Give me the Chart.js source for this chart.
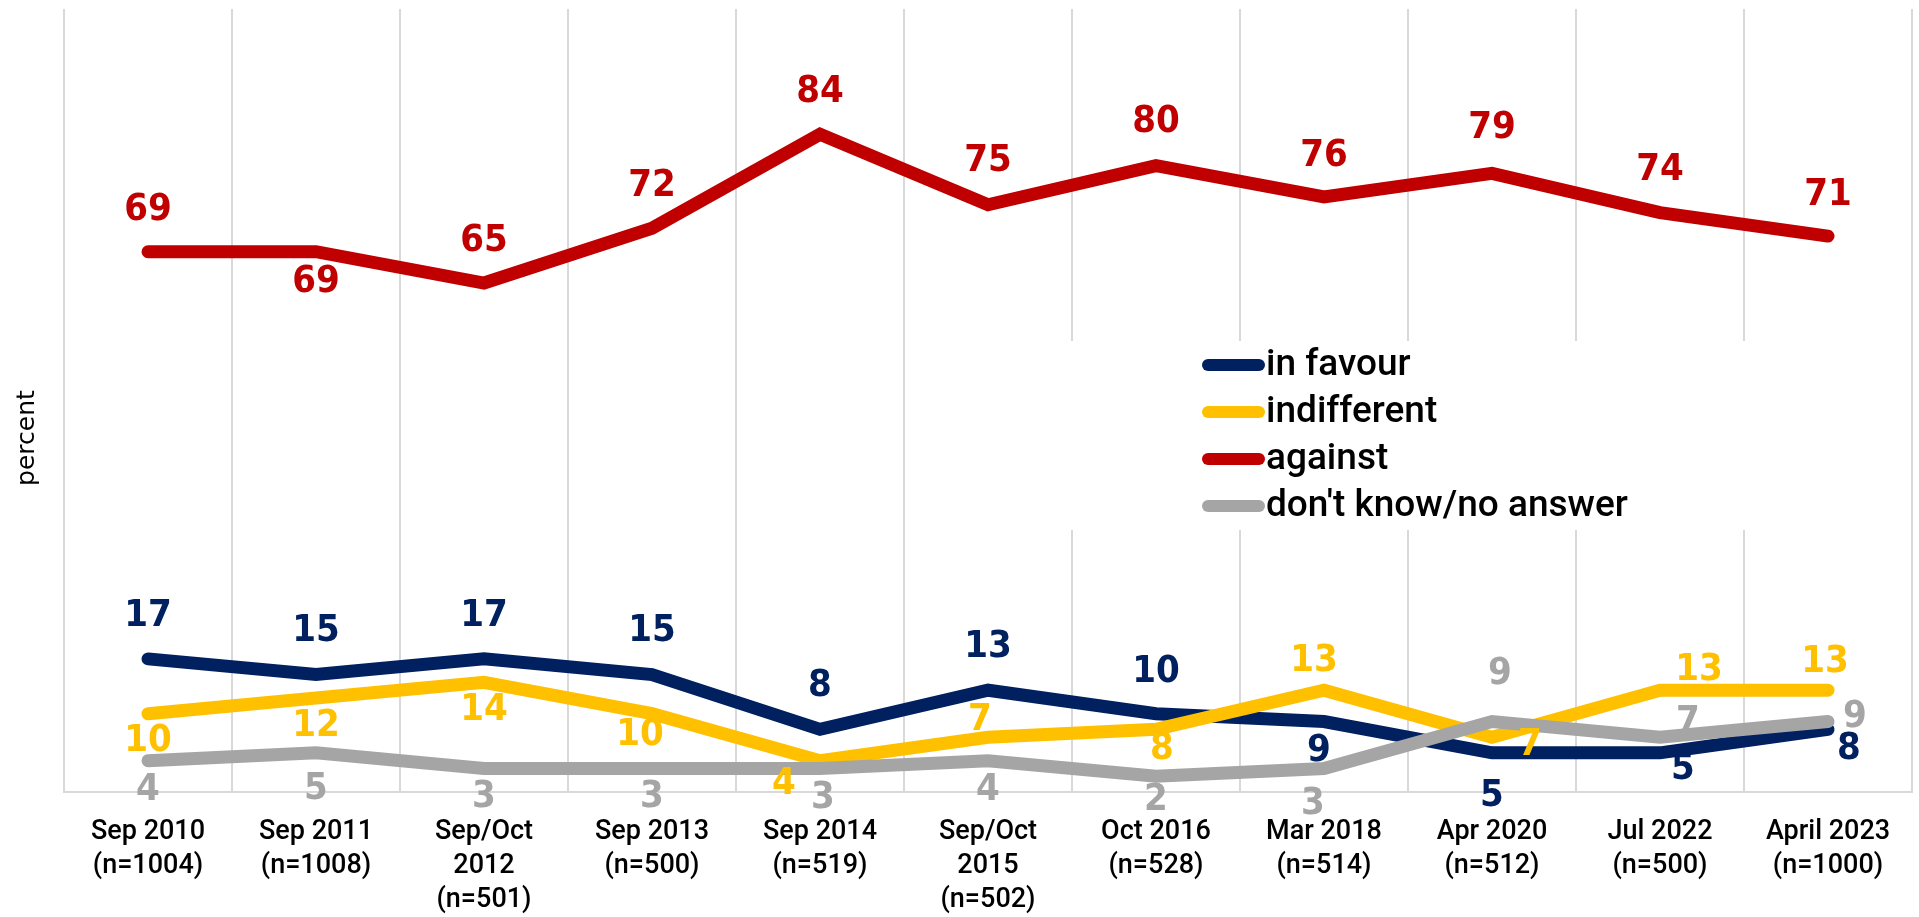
<!DOCTYPE html>
<html>
<head>
<meta charset="utf-8">
<script src="https://cdn.jsdelivr.net/npm/chart.js@4.4.1/dist/chart.umd.min.js"></script>
<style>
  html, body { margin: 0; padding: 0; background: #fff; }
</style>
</head>
<body>
<canvas id="chart" width="1919" height="917"></canvas>
<script>
const categories = [
  ['Sep 2010', '(n=1004)'],
  ['Sep 2011', '(n=1008)'],
  ['Sep/Oct', '2012', '(n=501)'],
  ['Sep 2013', '(n=500)'],
  ['Sep 2014', '(n=519)'],
  ['Sep/Oct', '2015', '(n=502)'],
  ['Oct 2016', '(n=528)'],
  ['Mar 2018', '(n=514)'],
  ['Apr 2020', '(n=512)'],
  ['Jul 2022', '(n=500)'],
  ['April 2023', '(n=1000)']
];

const inFavour    = [17, 15, 17, 15, 8, 13, 10, 9, 5, 5, 8];
const indifferent = [10, 12, 14, 10, 4, 7, 8, 13, 7, 13, 13];
const against     = [69, 69, 65, 72, 84, 75, 80, 76, 79, 74, 71];
const dontKnow    = [4, 5, 3, 3, 3, 4, 2, 3, 9, 7, 9];

// where each value label sits relative to its point, [dx, dy] in px
const inFavourNudge    = [[0,-43],[0,-43],[0,-43],[0,-43],[0,-43],[0,-43],[0,-42],[-5,30],[0,43],[23,16],[21,20]];
const indifferentNudge = [[0,27],[0,28],[0,28],[-12,21],[-36,23],[-8,-17],[6,20],[-10,-29],[38,8],[39,-20],[-3,-28]];
const againstNudge     = [[0,-42],[0,30],[0,-42],[0,-42],[0,-42],[0,-44],[0,-43],[0,-41],[0,-45],[0,-42],[0,-41]];
const dontKnowNudge    = [[0,29],[0,36],[0,29],[0,29],[3,30],[0,29],[0,24],[-11,36],[8,-47],[28,-15],[27,-4]];

const NAVY = '#002060', GOLD = '#FFC000', RED = '#C00000', GREY = '#A5A5A5';
const GRID = '#D9D9D9';

function line(label, data, color, order, nudge) {
  return {
    label: label,
    data: data,
    borderColor: color,
    backgroundColor: color,
    borderWidth: 13,
    borderCapStyle: 'round',
    borderJoinStyle: 'miter',
    pointRadius: 0,
    tension: 0,
    fill: false,
    order: order,
    nudge: nudge
  };
}

// white box behind the legend, covering the gridlines
const legendBox = {
  id: 'legendBox',
  beforeDatasetsDraw(chart) {
    const ctx = chart.ctx;
    ctx.save();
    ctx.fillStyle = '#fff';
    ctx.fillRect(1000, 341, 840, 189);
    ctx.restore();
  }
};

const valueLabels = {
  id: 'valueLabels',
  afterDatasetsDraw(chart) {
    const ctx = chart.ctx;
    ctx.save();
    ctx.font = "bold 38px 'Liberation Sans Narrow', 'DejaVu Sans Condensed', Roboto";
    ctx.textAlign = 'center';
    ctx.textBaseline = 'middle';
    chart.data.datasets.forEach((ds, i) => {
      const meta = chart.getDatasetMeta(i);
      ctx.fillStyle = ds.borderColor;
      meta.data.forEach((pt, j) => {
        const n = ds.nudge[j];
        ctx.fillText(String(ds.data[j]), pt.x + n[0], pt.y + n[1]);
      });
    });
    ctx.restore();
  }
};

const extras = {
  id: 'extras',
  afterDraw(chart) {
    const ctx = chart.ctx;
    ctx.save();
    // legend
    ctx.font = "500 37px Roboto";
    ctx.textAlign = 'left';
    ctx.textBaseline = 'middle';
    chart.data.datasets.forEach((ds, i) => {
      const y = 365 + i * 47;
      ctx.strokeStyle = ds.borderColor;
      ctx.lineWidth = 12;
      ctx.lineCap = 'round';
      ctx.beginPath();
      ctx.moveTo(1208, y);
      ctx.lineTo(1259, y);
      ctx.stroke();
      ctx.fillStyle = '#000';
      ctx.fillText(ds.label, 1266, y + 1);
    });
    // y axis title
    ctx.translate(27, 438);
    ctx.rotate(-Math.PI / 2);
    ctx.font = "25px 'DejaVu Sans'";
    ctx.textAlign = 'center';
    ctx.fillText('percent', 0, 0);
    ctx.restore();
  }
};

new Chart(document.getElementById('chart'), {
  type: 'line',
  data: {
    labels: categories,
    datasets: [
      line('in favour', inFavour, NAVY, 4, inFavourNudge),
      line('indifferent', indifferent, GOLD, 3, indifferentNudge),
      line('against', against, RED, 2, againstNudge),
      line("don't know/no answer", dontKnow, GREY, 1, dontKnowNudge)
    ]
  },
  options: {
    responsive: false,
    animation: false,
    devicePixelRatio: 1,
    layout: { padding: { left: 64, right: 7, top: 9, bottom: 0 } },
    plugins: {
      legend: { display: false },
      tooltip: { enabled: false }
    },
    scales: {
      x: {
        offset: true,
        grid: { offset: true, color: GRID, lineWidth: 2, drawTicks: false },
        border: { display: true, color: GRID, width: 2 },
        ticks: {
          color: '#000',
          padding: 23,
          maxRotation: 0,
          autoSkip: false,
          font: { family: 'Roboto', size: 27, weight: 500, lineHeight: 1.26 }
        },
        afterFit(scale) { scale.height = 125; }
      },
      y: {
        display: false,
        min: 0,
        max: 100
      }
    }
  },
  plugins: [legendBox, valueLabels, extras]
});
</script>
</body>
</html>
